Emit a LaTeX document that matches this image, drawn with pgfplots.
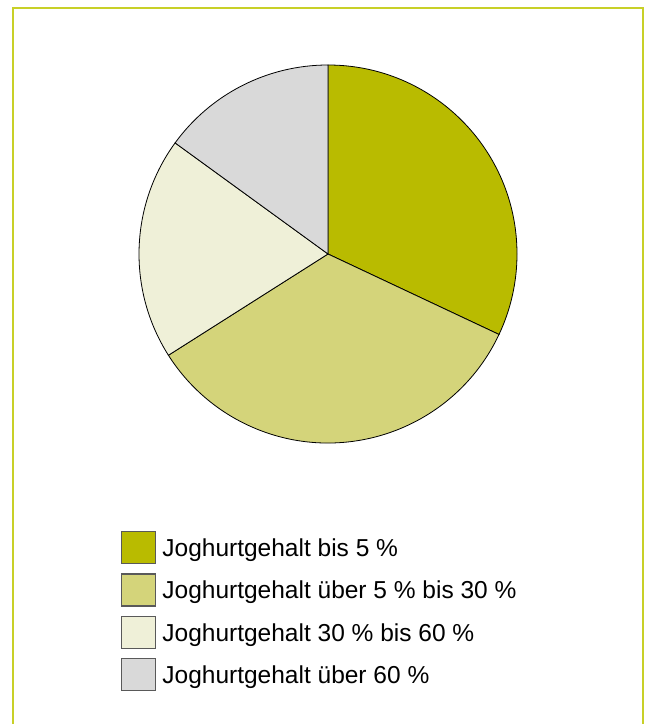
\documentclass[border=0pt]{standalone}
\usepackage{fontspec}
\setmainfont{Liberation Sans}
\usepackage{pgfplots}
\pgfplotsset{compat=1.18}
\usepackage{pgfplotstable}
\definecolor{pieA}{RGB}{185,187,0}
\definecolor{pieB}{RGB}{212,212,122}
\definecolor{pieC}{RGB}{239,240,216}
\definecolor{pieD}{RGB}{217,217,217}
\definecolor{frameC}{RGB}{200,208,40}
\begin{document}
\begin{tikzpicture}
\begin{axis}[
  at={(0,0)}, anchor=south west,
  scale only axis, width=649bp, height=724bp,
  xmin=0, xmax=649, ymin=0, ymax=724,
  hide axis, clip=false,
  legend cell align=left,
  legend style={at={(axis cs:121,193)}, anchor=north west, draw=none, fill=none,
    inner sep=0pt, row sep=9bp,
    font=\fontsize{24.5bp}{29bp}\selectfont,
    nodes={inner sep=0pt, anchor=base west},
    /tikz/every odd column/.append style={column sep=6bp}},
  legend image code/.code={\draw[#1] (0bp,-7bp) rectangle (34bp,25bp);},
]
% frame
\draw[frameC, line width=2bp] (axis cs:13,-20) -- (axis cs:13,716) -- (axis cs:643,716) -- (axis cs:643,-20);
% pie (percentages, clockwise from top)
\pgfplotsextra{
  \xdef\startang{90}
  \foreach \v/\c in {32/pieA,34/pieB,19/pieC,15/pieD}{
    \pgfmathsetmacro\endang{\startang-3.6*\v}
    \filldraw[fill=\c, draw=black, line width=0.8bp]
      (axis cs:328,470) -- ++(\startang:189bp) arc[start angle=\startang, end angle=\endang, radius=189bp] -- cycle;
    \xdef\startang{\endang}
  }
}
\addlegendimage{fill=pieA, draw=black!65, line width=1.2bp}
\addlegendentry{Joghurtgehalt bis 5 \%}
\addlegendimage{fill=pieB, draw=black!65, line width=1.2bp}
\addlegendentry{Joghurtgehalt über 5 \% bis 30 \%}
\addlegendimage{fill=pieC, draw=black!65, line width=1.2bp}
\addlegendentry{Joghurtgehalt 30 \% bis 60 \%}
\addlegendimage{fill=pieD, draw=black!65, line width=1.2bp}
\addlegendentry{Joghurtgehalt über 60 \%}
\end{axis}
\pgfresetboundingbox
\path[use as bounding box] (0,0) rectangle (649bp,724bp);
\end{tikzpicture}
\end{document}
